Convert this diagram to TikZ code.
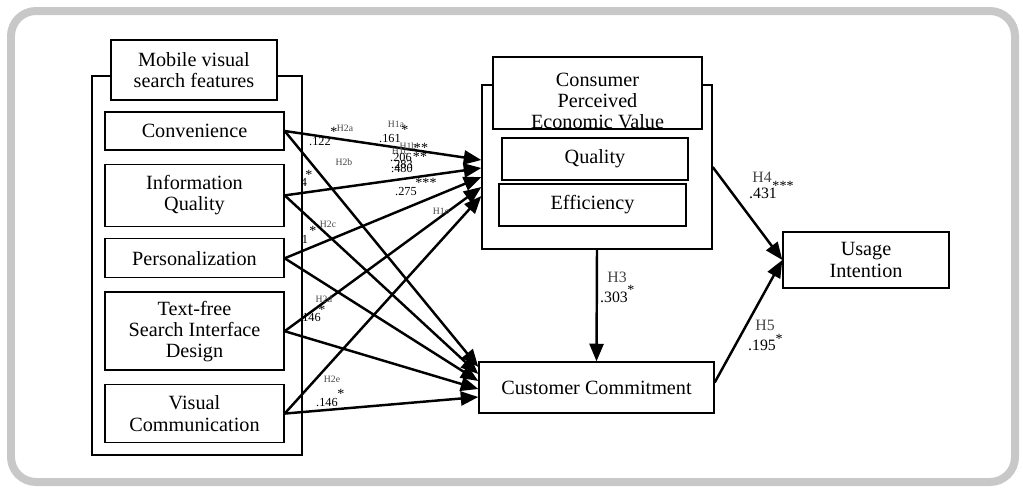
\documentclass[tikz,border=0pt]{standalone}
\usepackage{fontspec}
\setmainfont{Liberation Serif}
\usetikzlibrary{arrows.meta,positioning}
\definecolor{framegray}{RGB}{200,200,200}
\definecolor{labelgray}{RGB}{70,70,70}

\begin{document}
\begin{tikzpicture}[x=0.02cm, y=-0.02cm,
    box/.style={rectangle, draw, line width=0.8pt, fill=white, align=center, inner sep=0pt, font=\fontsize{11.5}{12}\selectfont},
    group/.style={rectangle, draw, line width=0.8pt, inner sep=0pt},
    path/.style={line width=1.4pt, -{Triangle[length=10pt,width=8pt]}},
    hyp/.style={font=\fontsize{5.5}{6}\selectfont, text=labelgray, inner sep=0pt},
    coef/.style={font=\fontsize{7}{8}\selectfont, inner sep=0pt},
    bighyp/.style={font=\fontsize{9}{10}\selectfont, text=labelgray, inner sep=0pt},
    bigcoef/.style={font=\fontsize{9}{10}\selectfont, inner sep=0pt},
    star/.style={font=\fontsize{8}{8}\selectfont, inner sep=0pt}]
    \useasboundingbox (0,0) rectangle (1023,487);
    % outer frame
    \draw[framegray, line width=0.16cm, rounded corners=0.5cm] (11,11) rectangle (1015,482);

    % mobile visual search features
    \node [group, minimum width=4.2cm, minimum height=7.58cm] (mvsf) at (197,265.5) {};
    \node [box, minimum width=3.32cm, minimum height=1.2cm] (mvsftitle) at (194,70) {Mobile visual\\search features};
    \node [box, minimum width=3.58cm, minimum height=0.76cm] (conv) at (194.5,131) {Convenience};
    \node [box, minimum width=3.58cm, minimum height=1.24cm, below=0.26cm of conv] (infq) {Information\\Quality};
    \node [box, minimum width=3.58cm, minimum height=0.78cm, below=0.22cm of infq] (pers) {Personalization};
    \node [box, minimum width=3.58cm, minimum height=1.56cm, below=0.26cm of pers] (tfree) {Text-free\\Search Interface\\Design};
    \node [box, minimum width=3.58cm, minimum height=1.16cm, below=0.26cm of tfree] (vcomm) {Visual\\Communication};

    % consumer perceived economic value
    \node [group, minimum width=4.6cm, minimum height=3.28cm] (cpev) at (597,167) {};
    \node [box, minimum width=4.18cm, minimum height=1.4cm, text height=1.44cm] (cpevtitle) at (597.5,93) {Consumer\\Perceived\\Economic Value};
    \node [box, minimum width=3.72cm, minimum height=0.84cm] (qual) at (595,159) {Quality};
    \node [box, minimum width=3.74cm, minimum height=0.84cm] (effi) at (592.5,205) {Efficiency};

    \node [box, minimum width=4.7cm, minimum height=1.02cm] (commit) at (596.5,387.5) {Customer Commitment};
    \node [box, minimum width=3.32cm, minimum height=1.12cm] (usage) at (866,260) {Usage\\Intention};

    % paths to perceived value
    \draw[path] (conv.east) -- ([yshift=0.14cm]cpev.west);
    \draw[path] (infq.east) -- ([yshift=-0.02cm]cpev.west);
    \draw[path] (pers.east) -- ([yshift=-0.2cm]cpev.west);
    \draw[path] (tfree.east) -- ([yshift=-0.4cm]cpev.west);
    \draw[path] (vcomm.east) -- ([yshift=-0.58cm]cpev.west);
    % paths to commitment
    \draw[path] (conv.east) -- ([yshift=0.41cm]commit.west);
    \draw[path] (infq.east) -- ([yshift=0.27cm]commit.west);
    \draw[path] (pers.east) -- ([yshift=0.13cm]commit.west);
    \draw[path] (tfree.east) -- ([yshift=-0.03cm]commit.west);
    \draw[path] (vcomm.east) -- ([yshift=-0.19cm]commit.west);
    % outcome paths
    \draw[path] (cpev.south) -- (commit.north);
    \draw[path] (cpev.east) -- (usage.west);
    \draw[path] ([yshift=0.1cm]commit.east) -- (usage.west);

    % coefficients
    \node [hyp] (h2a) at (345,128) {H2a};
    \node [star] (h2as) at (334,132) {*};
    \node [coef] (h2av) at (320,142) {.122};
    \node [hyp] (h1a) at (396,124) {H1a};
    \node [star] (h1as) at (405,130) {*};
    \node [coef] (h1av) at (390,139) {.161};
    \node [hyp] (h1c) at (400,151) {H1c};
    \node [hyp] (h1b) at (408,146) {H1b};
    \node [star] (h1bs) at (421,148) {**};
    \node [coef] (h1bv) at (401,157) {.206};
    \node [star] (h1bvs) at (420,157) {**};
    \node [coef] (h1cv) at (402,164) {.283};
    \node [coef] (h1dv) at (402,168) {.480};
    \node [hyp] (h2b) at (344,162) {H2b};
    \node [star] (h2bs) at (309,175) {*};
    \node [coef] (h2bv) at (304,182) {4};
    \node [hyp] (h2c) at (328,224) {H2c};
    \node [star] (h2cs) at (313,231) {*};
    \node [coef] (h2cv) at (305,239) {1};
    \node [coef] (h1ev) at (406,192) {.275};
    \node [star] (h1es) at (426,183) {***};
    \node [hyp] (h1e) at (441,211) {H1e};
    \node [hyp] (h2d) at (324,299) {H2d};
    \node [star] (h2ds) at (322,310) {*};
    \node [coef] (h2dv) at (310,318) {.146};
    \node [hyp] (h2e) at (332,379) {H2e};
    \node [star] (h2es) at (341,394) {*};
    \node [coef] (h2ev) at (327,403) {.146};

    \node [bighyp] (h3) at (617,277) {H3};
    \node [bigcoef] (h3v) at (614,297) {.303};
    \node [star] (h3s) at (631,290) {*};
    \node [bighyp] (h4) at (762,177) {H4};
    \node [bigcoef] (h4v) at (763,193) {.431};
    \node [star] (h4s) at (783,186) {***};
    \node [bighyp] (h5) at (765,325) {H5};
    \node [bigcoef] (h5v) at (762,345) {.195};
    \node [star] (h5s) at (779,339) {*};
\end{tikzpicture}
\end{document}
